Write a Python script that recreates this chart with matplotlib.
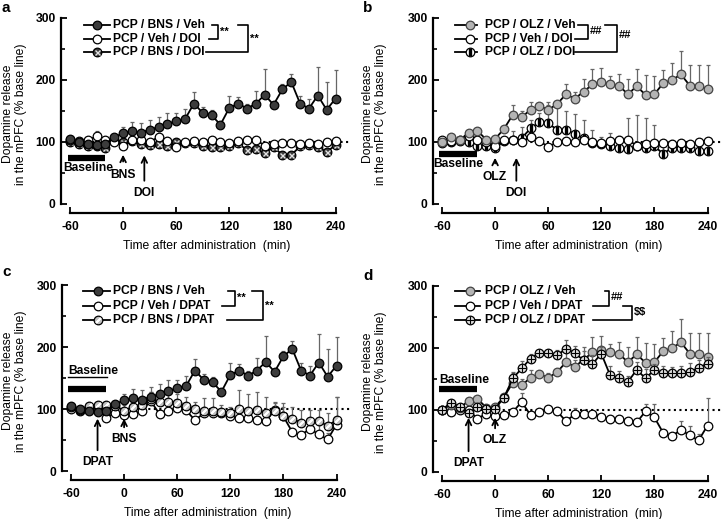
import numpy as np
import matplotlib.pyplot as plt

plt.rcParams['font.family'] = ['Liberation Sans', 'DejaVu Sans']
plt.rcParams['font.weight'] = 'bold'
plt.rcParams['font.size'] = 8.7
plt.rcParams['axes.unicode_minus'] = False

# sampling times (min)
time = np.arange(-60, 241, 10)

# PCP / BNS / Veh (panels a, c)
bns_veh = [105, 100, 97, 95, 97, 108, 114, 118, 115, 120, 124, 129, 134, 137, 162, 147,
           143, 128, 155, 162, 154, 162, 176, 160, 185, 197, 162, 154, 175, 152, 170]
bns_veh_err = [3, 3, 3, 3, 3, 4, 11, 14, 15, 15, 17, 17, 13, 17, 18, 10,
               8, 4, 20, 11, 8, 20, 42, 4, 9, 12, 12, 16, 46, 45, 46]
# PCP / Veh / DOI (panels a, b)
veh_doi = [103, 101, 103, 109, 104, 100, 94, 103, 104, 100, 108, 102, 92, 100, 101, 100,
           104, 100, 99, 102, 104, 104, 94, 97, 99, 98, 97, 99, 96, 100, 102]
veh_doi_err = [2, 2, 3, 8, 3, 2, 3, 3, 3, 2, 3, 2, 3, 2, 3, 2,
               2, 5, 3, 3, 2, 3, 5, 2, 3, 2, 2, 2, 3, 3, 3]
# PCP / BNS / DOI (panel a)
bns_doi = [100, 97, 93, 94, 91, 104, 100, 101, 97, 95, 97, 94, 100, 98, 98, 93,
           92, 92, 93, 98, 87, 89, 82, 92, 79, 79, 93, 95, 92, 84, 95]
bns_doi_err = [3, 2, 2, 3, 3, 4, 3, 3, 3, 2, 3, 3, 3, 2, 3, 3,
               2, 3, 3, 2, 3, 3, 3, 3, 3, 3, 3, 3, 3, 3, 3]
# PCP / OLZ / Veh (panels b, d)
olz_veh = [100, 108, 103, 115, 118, 104, 105, 121, 144, 140, 152, 158, 152, 161, 177, 170,
           181, 193, 197, 193, 191, 177, 190, 176, 177, 195, 200, 209, 191, 190, 186]
olz_veh_err = [3, 3, 3, 3, 3, 3, 3, 4, 16, 10, 12, 5, 8, 4, 16, 10,
               21, 24, 22, 14, 18, 25, 27, 32, 30, 21, 27, 37, 33, 34, 38]
# PCP / OLZ / DOI (panel b)
olz_doi = [99, 100, 101, 100, 93, 94, 91, 101, 104, 106, 122, 132, 130, 120, 120, 113,
           106, 99, 96, 93, 90, 88, 94, 90, 93, 81, 91, 90, 90, 85, 86]
olz_doi_err = [3, 3, 3, 3, 3, 3, 4, 5, 14, 18, 13, 14, 35, 40, 30, 32,
               30, 20, 12, 22, 20, 50, 50, 48, 35, 15, 12, 12, 10, 10, 12]
# PCP / Veh / DPAT (panels c, d)
veh_dpat = [100, 96, 100, 100, 86, 94, 90, 92, 97, 113, 92, 97, 102, 98, 82, 93,
            93, 94, 89, 85, 86, 83, 80, 98, 88, 63, 58, 68, 59, 51, 75]
veh_dpat_err = [2, 2, 2, 3, 3, 3, 3, 3, 3, 14, 3, 3, 3, 3, 3, 10,
                3, 3, 3, 3, 3, 3, 3, 12, 22, 3, 3, 15, 15, 10, 45]
# PCP / BNS / DPAT (panel c)
bns_dpat = [103, 99, 105, 107, 107, 105, 97, 104, 107, 116, 112, 112, 110, 105, 100, 96,
            97, 95, 94, 100, 97, 99, 94, 97, 88, 84, 78, 80, 80, 73, 82]
bns_dpat_err = [2, 2, 2, 3, 3, 8, 10, 10, 10, 12, 10, 12, 15, 15, 12, 22,
                20, 12, 10, 30, 28, 28, 25, 14, 15, 20, 20, 18, 18, 20, 38]
# PCP / OLZ / DPAT (panel d)
olz_dpat = [100, 112, 105, 95, 105, 102, 102, 120, 151, 167, 183, 192, 192, 188, 199, 192,
            180, 174, 191, 156, 151, 145, 165, 151, 165, 159, 159, 159, 161, 168, 175]
olz_dpat_err = [3, 3, 3, 3, 3, 3, 4, 5, 10, 12, 8, 5, 5, 8, 14, 12,
                15, 15, 10, 15, 12, 10, 12, 15, 10, 12, 10, 12, 15, 12, 10]

W, H = 721, 519
SX, SY = 0.885, 0.62

# marker looks: face, edge, overlay glyph (marker, size, color, width)
STYLES = {
    'dark': ('#3c3c3c', 'k', None),
    'open': ('white', 'k', None),
    'xdark': ('#3a3a3a', 'k', ('x', 3.6, '#e0e0e0', 1.0)),
    'gray': ('#b4b4b4', '#444444', None),
    'vbar': ('white', 'k', ('|', 5.6, 'k', 2.4)),
    'diag': ('#c0c0c0', 'k', ((2, 2, -45), 4.8, 'white', 1.4)),
    'cross': ('#dedede', 'k', ('+', 6.0, 'k', 0.8)),
}

fig = plt.figure(figsize=(W / 100, H / 100), dpi=100)
ov = fig.add_axes([0, 0, 1, 1], zorder=5)
ov.set_xlim(0, W)
ov.set_ylim(H, 0)
ov.axis('off')


def make_axes(x0, y0, ylab_px):
    left = x0 - 10 * SX
    ax = fig.add_axes([left / W, 1 - (y0 + 14 * SY) / H, 328 * SX / W, 319 * SY / H])
    ax.set_xlim(-70, 258)
    ax.set_ylim(-14, 305)
    for s in ['top', 'right']:
        ax.spines[s].set_visible(False)
    ax.spines['left'].set_bounds(0, 300)
    ax.spines['bottom'].set_bounds(-60, 240)
    ax.spines['left'].set_linewidth(1.6)
    ax.spines['bottom'].set_linewidth(1.6)
    ax.set_yticks([0, 100, 200, 300])
    ax.set_yticks([50, 150, 250], minor=True)
    ax.set_xticks([-60, 0, 60, 120, 180, 240])
    ax.tick_params(direction='in', length=4, width=1.3, pad=4)
    ax.tick_params(axis='x', pad=6)
    ax.tick_params(which='minor', direction='in', length=3, width=1.2)
    ax.set_xlabel('Time after administration  (min)', labelpad=5)
    ax.set_ylabel('Dopamine release\nin the mPFC (% base line)', linespacing=1.15)
    ax.yaxis.set_label_coords((ylab_px - left) / (328 * SX), 0.5)
    ax.plot([-60, 258], [100, 100], ':', color='k', lw=1.5, zorder=1, clip_on=False)
    return ax


def draw_marker(a, x, y, style, z, ms=6.2):
    face, edge, glyph = STYLES[style]
    a.plot(x, y, 'o', ls='none', ms=ms, mfc=face, mec=edge, mew=0.9, zorder=z, clip_on=False)
    if glyph:
        a.plot(x, y, ls='none', marker=glyph[0], ms=glyph[1], mec=glyph[2], mfc=glyph[2],
               mew=glyph[3], zorder=z + 0.1, clip_on=False)


def draw_series(ax, y, err, style, z):
    ax.errorbar(time, y, yerr=[np.zeros(len(err)), err], fmt='none', ecolor='#666666',
                elinewidth=0.9, capsize=1.6, capthick=0.9, zorder=z)
    ax.plot(time, y, color='k', lw=1.3, zorder=z + 0.5)
    draw_marker(ax, time, y, style, z + 1)


def key(x1, x2, xm, tx, py, style, label):
    ov.plot([x1, x2], [py, py], color='k', lw=1.3)
    draw_marker(ov, [xm], [py], style, 6)
    ov.text(tx, py, label, ha='left', va='center')


def bracket(xt, xb, xv, yt, yb, txt, tx, ty):
    ov.plot([xt, xv, xv, xb], [yt, yt, yb, yb], color='k', lw=1.2)
    ov.text(tx, ty, txt, ha='left', va='center', fontsize=8)


def arrow(ax, t, head, tail, label, ly):
    ax.annotate('', xy=(t, head), xytext=(t, tail),
                arrowprops=dict(arrowstyle='->', lw=1.3, color='k', mutation_scale=10))
    ax.text(t, ly, label, ha='center', va='center')


# ---- a ----
ax = make_axes(70, 204, 27)
draw_series(ax, bns_doi, bns_doi_err, 'xdark', 2)
draw_series(ax, veh_doi, veh_doi_err, 'open', 4)
draw_series(ax, bns_veh, bns_veh_err, 'dark', 6)
ax.plot([-62, -20], [75, 75], color='k', lw=4.5, solid_capstyle='butt')
ax.text(-68, 58, 'Baseline', ha='left', va='center')
arrow(ax, 0, 84, 64, 'BNS', 46)
arrow(ax, 24, 83, 33, 'DOI', 18)
key(84, 110, 97, 113, 25, 'dark', 'PCP / BNS / Veh')
key(84, 110, 97, 113, 39, 'open', 'PCP / Veh / DOI')
key(84, 110, 97, 113, 52, 'xdark', 'PCP / BNS / DOI')
bracket(212, 209, 218, 25, 39, '**', 220, 32)
bracket(238, 206, 248, 25, 52, '**', 250, 39)
ov.text(2, 8, 'a', fontsize=11, ha='left', va='center')

# ---- b ----
ax = make_axes(442, 204, 387)
draw_series(ax, olz_doi, olz_doi_err, 'vbar', 2)
draw_series(ax, veh_doi, veh_doi_err, 'open', 4)
draw_series(ax, olz_veh, olz_veh_err, 'gray', 6)
ax.plot([-63, -20], [81, 81], color='k', lw=4.5, solid_capstyle='butt')
ax.text(-70, 64, 'Baseline', ha='left', va='center')
arrow(ax, 0, 79, 61, 'OLZ', 43)
arrow(ax, 24, 79, 33, 'DOI', 18)
key(455, 477, 470, 485, 25, 'gray', 'PCP / OLZ / Veh')
key(455, 477, 470, 485, 39, 'open', 'PCP / Veh / DOI')
key(455, 477, 470, 485, 52, 'vbar', 'PCP / OLZ / DOI')
bracket(578, 575, 588, 25, 39, '##', 590, 31)
bracket(605, 575, 617, 25, 52, '##', 619, 35)
ov.text(363, 8, 'b', fontsize=11, ha='left', va='center')

# ---- c ----
ax = make_axes(71, 471, 27)
draw_series(ax, veh_dpat, veh_dpat_err, 'open', 2)
draw_series(ax, bns_dpat, bns_dpat_err, 'diag', 4)
draw_series(ax, bns_veh, bns_veh_err, 'dark', 6)
ax.plot([-63, -21], [132, 132], color='k', lw=4.5, solid_capstyle='butt')
ax.text(-63, 161, 'Baseline', ha='left', va='center')
ax.plot([-63, -19], [151, 151], color='k', lw=1.0)
arrow(ax, -30, 89, 29, 'DPAT', 14)
arrow(ax, 0, 89, 66, 'BNS', 51)
key(83, 110, 98, 113, 291, 'dark', 'PCP / BNS / Veh')
key(83, 110, 98, 113, 306, 'open', 'PCP / Veh / DPAT')
key(83, 110, 98, 113, 320, 'diag', 'PCP / BNS / DPAT')
bracket(228, 222, 235, 291, 306, '**', 237, 298)
bracket(252, 227, 263, 291, 320, '**', 265, 306)
ov.text(2, 272, 'c', fontsize=11, ha='left', va='center')

# ---- d ----
ax = make_axes(442, 472, 387)
draw_series(ax, veh_dpat, veh_dpat_err, 'open', 2)
draw_series(ax, olz_veh, olz_veh_err, 'gray', 4)
draw_series(ax, olz_dpat, olz_dpat_err, 'cross', 6)
ax.plot([-63, -20], [134, 134], color='k', lw=4.5, solid_capstyle='butt')
ax.text(-63, 148, 'Baseline', ha='left', va='center')
arrow(ax, -30, 92, 29, 'DPAT', 14)
arrow(ax, 0, 92, 66, 'OLZ', 51)
key(455, 480, 470, 485, 291, 'gray', 'PCP / OLZ / Veh')
key(455, 480, 470, 485, 306, 'open', 'PCP / Veh / DPAT')
key(455, 480, 470, 485, 320, 'cross', 'PCP / OLZ / DPAT')
bracket(605, 593, 609, 291, 306, '##', 611, 297)
bracket(623, 593, 632, 306, 320, r'\$\$', 634, 312)
ov.text(363, 276, 'd', fontsize=11, ha='left', va='center')

fig.savefig('out.png', dpi=100)
